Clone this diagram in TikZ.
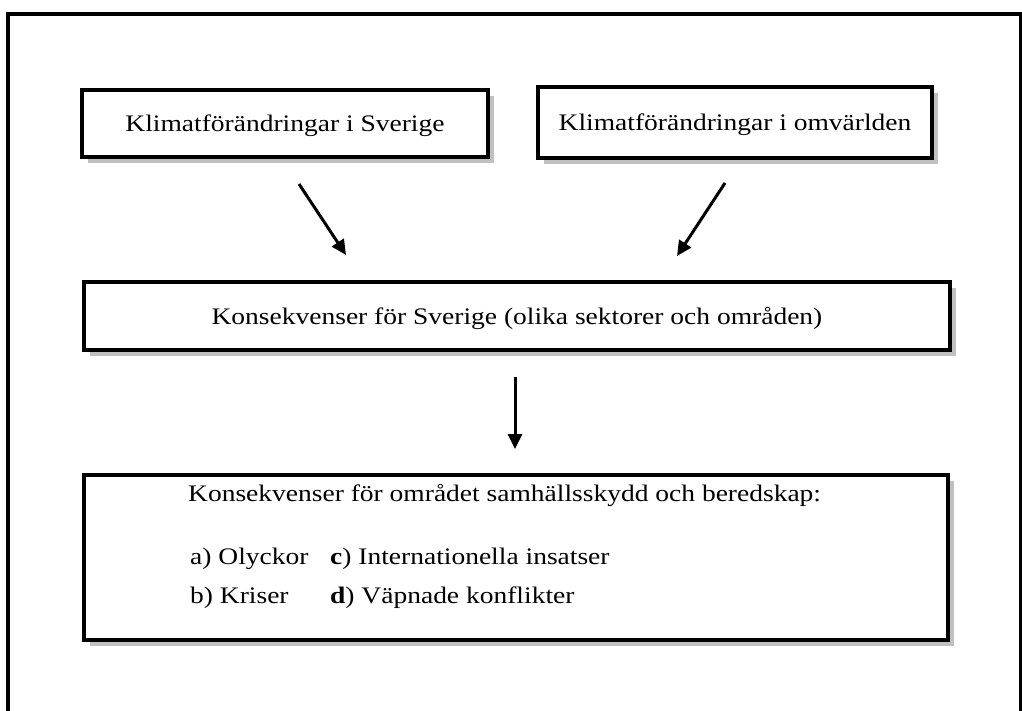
\documentclass[tikz,border=0pt]{standalone}
\usepackage{fontspec}
\setmainfont[FakeStretch=1.16]{Liberation Serif}
\usetikzlibrary{arrows.meta,shadows}
\definecolor{shadowgray}{RGB}{192,192,192}
\begin{document}
\begin{tikzpicture}[x=1pt,y=-1pt,
  box/.style={draw=black, line width=4pt, fill=white, inner sep=0pt,
    text height=16pt, text depth=0pt,
    font=\fontsize{23.7}{28}\selectfont,
    drop shadow={shadow xshift=6pt, shadow yshift=-6pt, fill=shadowgray, opacity=1}},
  txt/.style={anchor=base west, inner sep=0pt, font=\fontsize{23.7}{28}\selectfont},
  arr/.style={line width=3pt, -{Triangle[length=15pt,width=14pt]}}
]
\useasboundingbox (0,0) rectangle (1022,710);
\clip (0,0) rectangle (1022,710);
\fill[white] (0,0) rectangle (1022,710);
\draw[line width=3.5pt] (8,730) -- (8,14) -- (1021,14) -- (1021,730);

\node[box, minimum width=406pt, minimum height=67pt] (sv) at (285,123.5) {Klimatförändringar i Sverige};
\node[box, minimum width=394pt, minimum height=71pt] (om) at (735,122.5) {Klimatförändringar i omvärlden};
\node[box, minimum width=866pt, minimum height=68pt] (ks) at (517,316) {Konsekvenser för Sverige (olika sektorer och områden)};
\node[box, minimum width=864pt, minimum height=165pt] (ko) at (516,557.5) {};

\node[txt] (l1) at (188,501) {Konsekvenser för området samhällsskydd och beredskap:};
\node[txt] (la) at (190,564) {a) Olyckor};
\node[txt] (lc) at (330,564) {\textbf{c}) Internationella insatser};
\node[txt] (lb) at (190,603) {b) Kriser};
\node[txt] (ld) at (330,603) {\textbf{d}) Väpnade konflikter};

\coordinate (a1s) at (299,184);
\coordinate (a1e) at (346,255);
\coordinate (a2s) at (725,183);
\coordinate (a2e) at (677,256);
\coordinate (a3s) at (515,377);
\coordinate (a3e) at (515,449);
\draw[arr] (a1s) -- (a1e);
\draw[arr] (a2s) -- (a2e);
\draw[arr] (a3s) -- (a3e);
\end{tikzpicture}
\end{document}
